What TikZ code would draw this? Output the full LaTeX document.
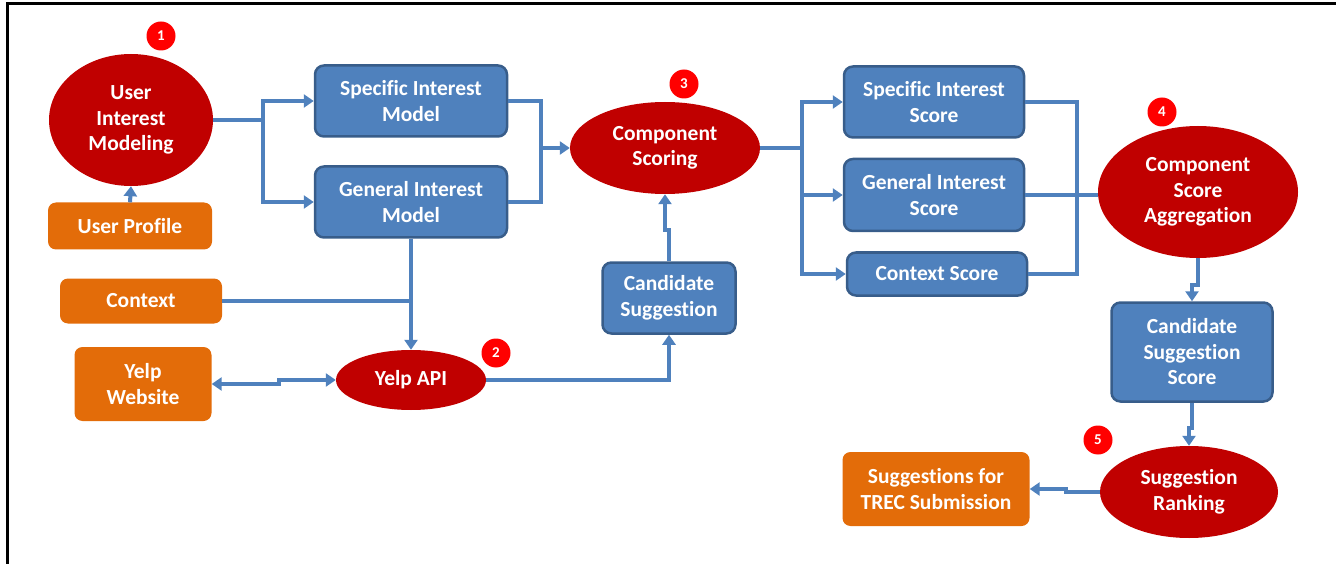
\documentclass[tikz,border=0pt]{standalone}
\usepackage{fontspec}
\setmainfont{Carlito}[Ligatures={NoCommon}]
\usetikzlibrary{shapes.geometric,arrows.meta}
\definecolor{bfill}{HTML}{4F81BD}
\definecolor{bdraw}{HTML}{385D8A}
\definecolor{ofill}{HTML}{E36C09}
\definecolor{dred}{HTML}{C00000}
\definecolor{bred}{HTML}{FF0000}
\begin{document}
\begin{tikzpicture}[x=1pt,y=-1pt,
 txt/.style={text=white, font=\bfseries\fontsize{21.5}{25.5}\selectfont, align=center, inner sep=0pt},
 bbox/.style={txt, rectangle, rounded corners=9pt, fill=bfill, draw=bdraw, line width=2.5pt},
 obox/.style={txt, rectangle, rounded corners=8pt, fill=ofill},
 ell/.style={txt, ellipse, fill=dred},
 badge/.style={circle, fill=bred, text=white, font=\bfseries\fontsize{15}{15}\selectfont, minimum size=29pt, inner sep=0pt},
 conn/.style={draw=bfill, line width=4pt},
 arr/.style={conn, -{Triangle[width=13pt,length=10pt]}},
 arr2/.style={conn, {Triangle[width=13pt,length=10pt]}-{Triangle[width=13pt,length=10pt]}}
]
\useasboundingbox (0,0) rectangle (1336,564);
\draw[line width=3pt] (1336,4) -- (7,4) -- (7,564);

% nodes
\node[ell, minimum width=164pt, minimum height=132pt] (uim) at (131,120) {User\\Interest\\Modeling};
\node[obox, minimum width=164pt, minimum height=47pt] (up) at (130,226) {User Profile};
\node[bbox, minimum width=192pt, minimum height=71pt] (sim) at (411,101) {Specific Interest\\Model};
\node[bbox, minimum width=192pt, minimum height=71pt] (gim) at (411,202) {General Interest\\Model};
\node[obox, minimum width=162pt, minimum height=45pt] (ctx) at (141,301) {Context};
\node[obox, minimum width=137pt, minimum height=74pt] (web) at (143,384) {Yelp\\Website};
\node[ell, minimum width=150pt, minimum height=60pt] (yelp) at (411,380) {Yelp API};
\node[bbox, minimum width=133pt, minimum height=71pt] (cand) at (669,298) {Candidate\\Suggestion};
\node[ell, minimum width=190pt, minimum height=92pt] (cs) at (665,148) {Component\\Scoring};
\node[bbox, minimum width=180pt, minimum height=71pt] (sis) at (934,102) {Specific Interest\\Score};
\node[bbox, minimum width=180pt, minimum height=72pt] (gis) at (934,195) {General Interest\\Score};
\node[bbox, minimum width=180pt, minimum height=43pt] (ctxs) at (937,274) {Context Score};
\node[ell, minimum width=200pt, minimum height=132pt] (agg) at (1198,192) {Component\\Score\\Aggregation};
\node[bbox, minimum width=161pt, minimum height=99pt] (css) at (1192,352) {Candidate\\Suggestion\\Score};
\node[ell, minimum width=178pt, minimum height=92pt] (rank) at (1189,492) {Suggestion\\Ranking};
\node[obox, minimum width=187pt, minimum height=74pt] (trec) at (936,489) {Suggestions for\\TREC Submission};

% badges
\node[badge] (b1) at (161,36) {1};
\node[badge] (b2) at (496,353) {2};
\node[badge] (b3) at (684,84) {3};
\node[badge] (b4) at (1162,112) {4};
\node[badge] (b5) at (1098,440) {5};

% junctions
\coordinate (j1) at (263,120);
\coordinate (j2) at (541,148);
\coordinate (j3) at (802,148);
\coordinate (j4) at (1077,195);
\coordinate (k1) at (669,230);
\coordinate (k2) at (279,382);
\coordinate (k3) at (1198,285);
\coordinate (k4) at (1192,428);
\coordinate (k5) at (1066,492);

% connectors
\draw[arr] (up.north) -- (uim.south);
\draw[conn] (uim.east) -- (j1);
\draw[arr] (j1) |- (sim.west);
\draw[arr] (j1) |- (gim.west);
\draw[conn] (sim.east) -| (j2);
\draw[conn] (gim.east) -| (j2);
\draw[arr] (j2) -- (cs.west);
\draw[arr] (gim.south) -- (yelp.north);
\draw[conn] (ctx.east) -- (ctx.east -| gim.south);
\draw[arr2] (web.east) -| (k2) |- (yelp.west);
\draw[arr] (yelp.east) -| (cand.south);
\draw[arr] (cand.north) -- (k1) -| (cs.south);
\draw[conn] (cs.east) -- (j3);
\draw[arr] (j3) |- (sis.west);
\draw[arr] (j3) |- (gis.west);
\draw[arr] (j3) |- (ctxs.west);
\draw[conn] (sis.east) -| (j4);
\draw[conn] (ctxs.east) -| (j4);
\draw[conn] (gis.east) -- (gis.east -| agg.west);
\draw[arr] (agg.south) -- (k3) -| (css.north);
\draw[arr] (css.south) -- (k4) -| (rank.north);
\draw[arr] (rank.west) -- (k5) |- (trec.east);
\end{tikzpicture}
\end{document}
